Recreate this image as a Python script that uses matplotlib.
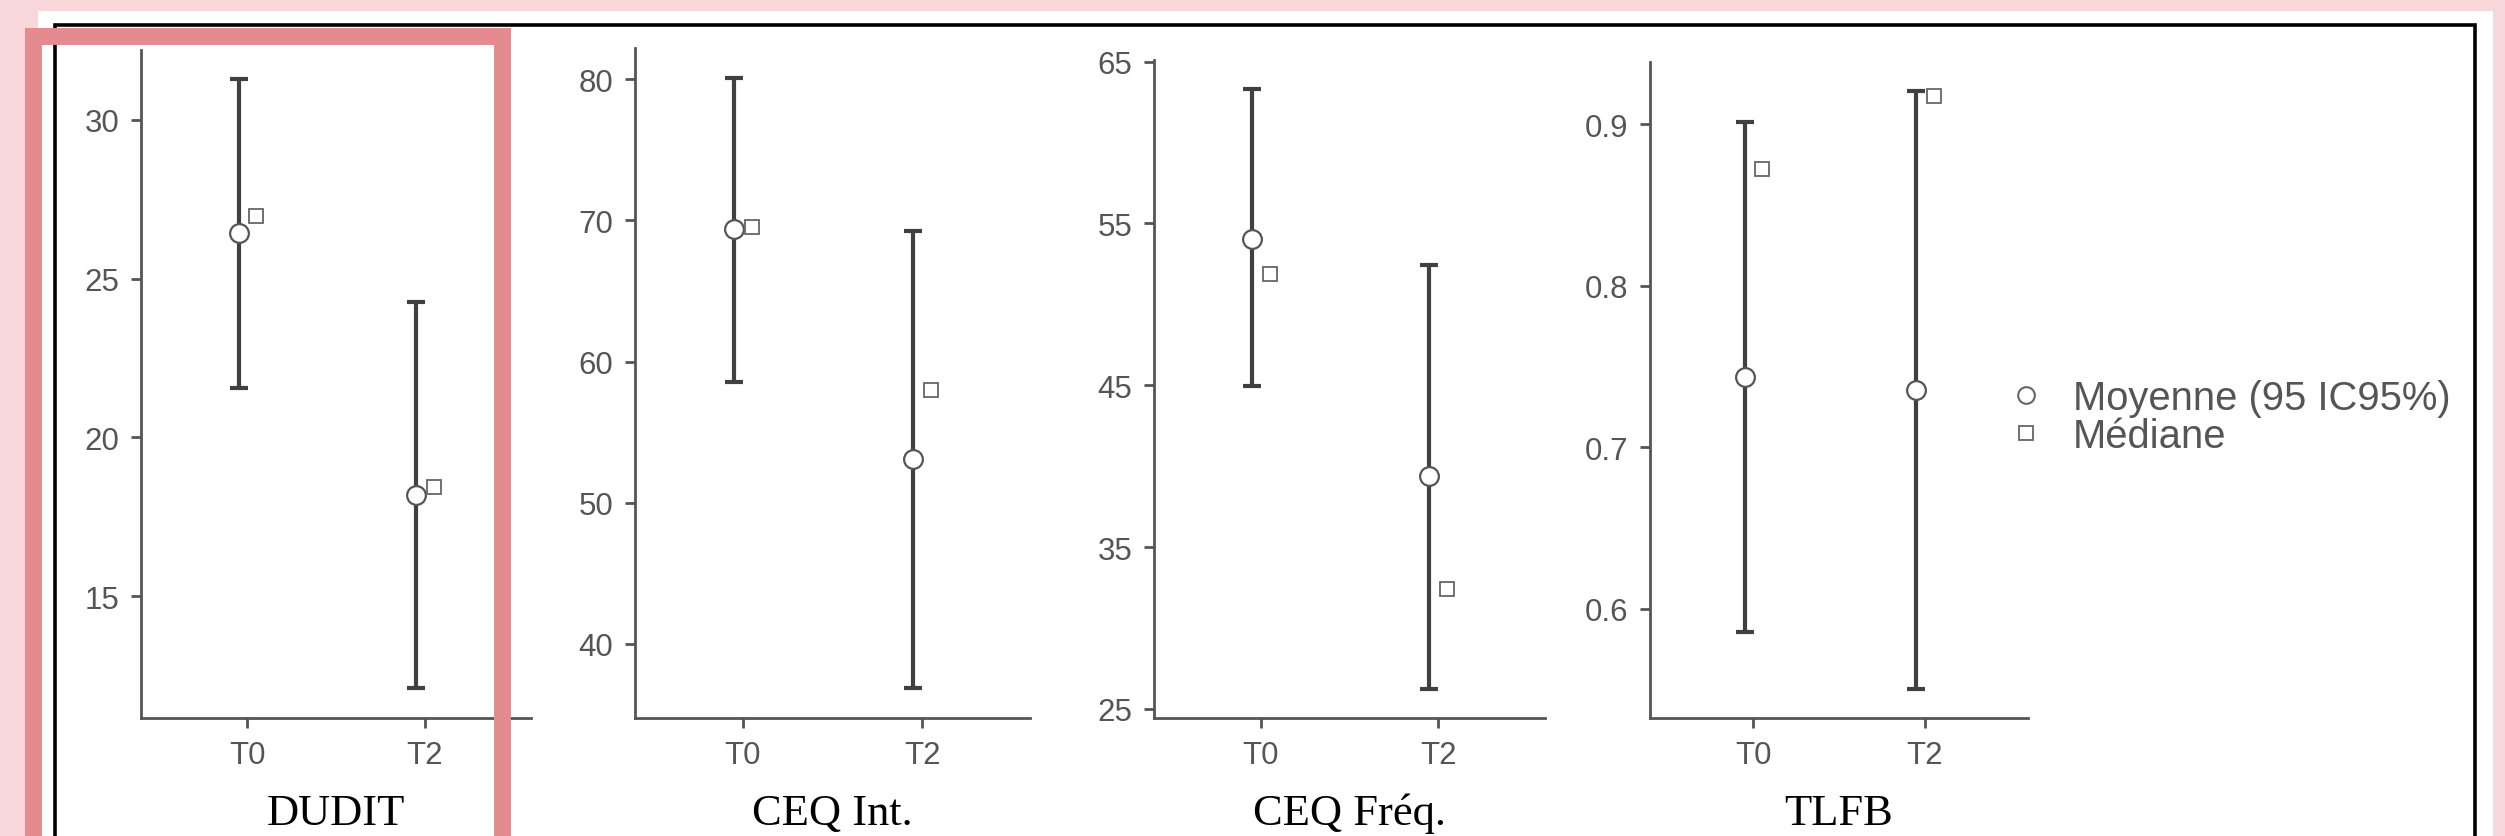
import matplotlib
matplotlib.use("Agg")
import matplotlib.pyplot as plt
from matplotlib.patches import Rectangle
from matplotlib.lines import Line2D

W, H = 2505, 837

# Données (moyenne, IC95 bas/haut, médiane) pour T0 et T2
temps = ["T0", "T2"]

dudit_moy = [26.44, 18.18]
dudit_bas = [21.55, 12.11]
dudit_haut = [31.28, 24.26]
dudit_med = [26.96, 18.45]

ceq_int_moy = [69.36, 53.1]
ceq_int_bas = [58.56, 36.9]
ceq_int_haut = [80.1, 69.24]
ceq_int_med = [69.5, 58.0]

ceq_freq_moy = [54.04, 39.42]
ceq_freq_bas = [44.93, 26.25]
ceq_freq_haut = [63.28, 52.46]
ceq_freq_med = [51.9, 32.43]

tlfb_moy = [0.7438, 0.7355]
tlfb_bas = [0.5854, 0.5504]
tlfb_haut = [0.9017, 0.9208]
tlfb_med = [0.8725, 0.9175]

titres = ["DUDIT", "CEQ Int.", "CEQ Fréq.", "TLFB"]
yticks_list = [[15, 20, 25, 30], [40, 50, 60, 70, 80], [25, 35, 45, 55, 65], [0.6, 0.7, 0.8, 0.9]]
ylims = [(11.16, 32.2), (34.76, 82.2), (24.44, 65.1), (0.5323, 0.9387)]

# (gauche, haut, droite, bas) en pixels
cadres = [(141, 51, 531, 719), (635, 49, 1030, 719), (1154, 61, 1545, 719), (1650, 63, 2028, 719)]

GRIS = "#555555"
SANS = ["Liberation Sans", "DejaVu Sans"]
SERIF = ["Liberation Serif", "DejaVu Serif"]


def fx(px):
    return px / W


def fy(py):
    return 1 - py / H


def panneau(fig, cadre, moy, bas, haut, med, titre, yticks, ylim):
    l, t, r, b = cadre
    ax = fig.add_axes([fx(l), fy(b), (r - l) / W, (b - t) / H])
    x = list(range(len(temps)))
    xm = [v - 0.05 for v in x]
    xd = [v + 0.05 for v in x]
    err = [[m - lo for m, lo in zip(moy, bas)], [hi - m for m, hi in zip(moy, haut)]]
    ax.errorbar(xm, moy, yerr=err, fmt="none", ecolor="#404040", elinewidth=3.0,
                capsize=6.5, capthick=3.0, zorder=2)
    ax.plot(xm, moy, "o", ms=13.5, mfc="white", mec=GRIS, mew=1.6, zorder=3)
    ax.plot(xd, med, "s", ms=10.5, mfc="white", mec="#666666", mew=1.3, zorder=4)

    ax.set_xlim(-0.6, 1.6)
    ax.set_ylim(*ylim)
    ax.set_xticks(x)
    ax.set_xticklabels(temps)
    ax.set_yticks(yticks)
    ax.set_yticklabels([str(v) for v in yticks])
    for s in ["top", "right"]:
        ax.spines[s].set_visible(False)
    for s in ["left", "bottom"]:
        ax.spines[s].set_color(GRIS)
        ax.spines[s].set_linewidth(2)
    ax.tick_params(colors=GRIS, width=2, length=7.5, pad=8, labelsize=22.5)
    for lab in ax.get_xticklabels() + ax.get_yticklabels():
        lab.set_family(SANS)
        lab.set_color(GRIS)
    ax.patch.set_visible(False)

    fig.text(fx((l + r) / 2), fy(825), titre, ha="center", va="baseline",
             family=SERIF, fontsize=32, color="black")
    return ax


fig = plt.figure(figsize=(W / 100, H / 100), dpi=100)
fig.patch.set_facecolor("#f8d7da")

# fond blanc et cadre noir de la capture
fig.add_artist(Rectangle((fx(38), -0.1), (2493 - 38) / W, fy(12) + 0.1,
                         transform=fig.transFigure, facecolor="white", edgecolor="none", zorder=-2))
fig.add_artist(Rectangle((fx(55), -0.1), (2475 - 55) / W, fy(26) + 0.1,
                         transform=fig.transFigure, facecolor="none", edgecolor="black",
                         linewidth=2.6, zorder=-1))

donnees = [
    (dudit_moy, dudit_bas, dudit_haut, dudit_med),
    (ceq_int_moy, ceq_int_bas, ceq_int_haut, ceq_int_med),
    (ceq_freq_moy, ceq_freq_bas, ceq_freq_haut, ceq_freq_med),
    (tlfb_moy, tlfb_bas, tlfb_haut, tlfb_med),
]

for i, (moy, bas, haut, med) in enumerate(donnees):
    panneau(fig, cadres[i], moy, bas, haut, med, titres[i], yticks_list[i], ylims[i])

# légende
poignees = [
    Line2D([], [], ls="none", marker="o", ms=12, mfc="white", mec="#666666", mew=1.5),
    Line2D([], [], ls="none", marker="s", ms=10, mfc="white", mec="#666666", mew=1.3),
]
leg = fig.legend(poignees, ["Moyenne (95 IC95%)", "Médiane"], loc="center left",
                 bbox_to_anchor=(fx(2006), fy(418)), frameon=False, borderpad=0,
                 borderaxespad=0, handlelength=1.0, handletextpad=0.68, labelspacing=0.0,
                 prop={"family": SANS, "size": 28.8})
for txt in leg.get_texts():
    txt.set_color(GRIS)

# cadre rouge de surbrillance autour du DUDIT
fig.add_artist(Rectangle((fx(32.5), -0.1), (501.5 - 32.5) / W, fy(36.5) + 0.1,
                         transform=fig.transFigure, facecolor="none", edgecolor="#e38b8f",
                         linewidth=12.2, zorder=10))

fig.savefig("out.png", dpi=100, facecolor=fig.get_facecolor())
